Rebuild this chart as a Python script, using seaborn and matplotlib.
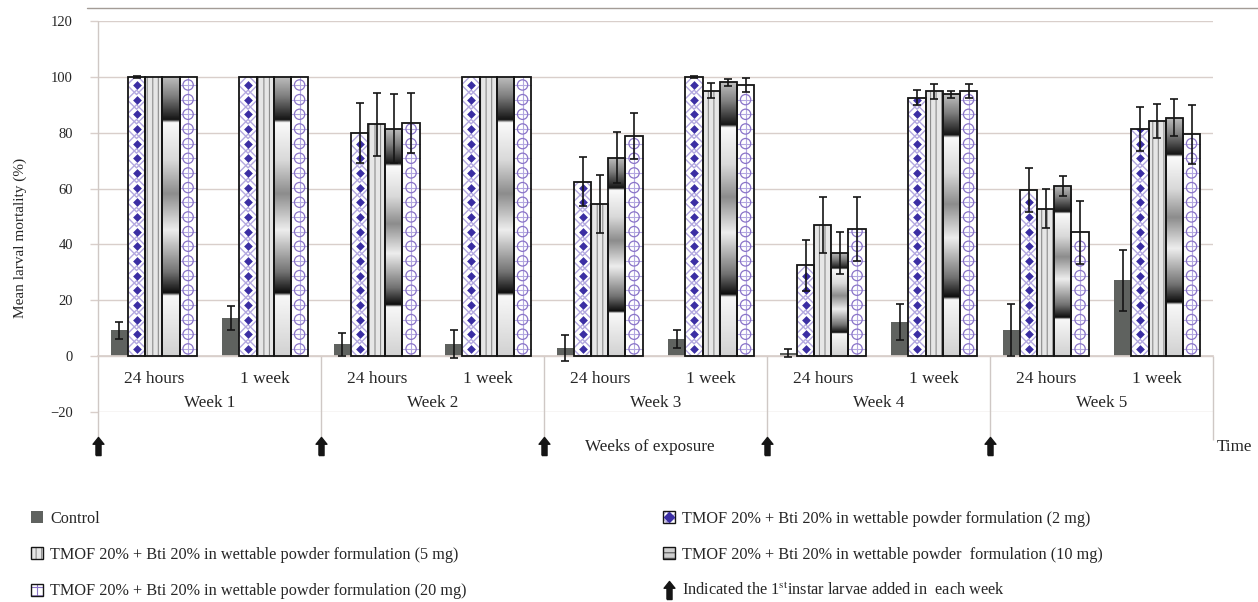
import matplotlib.pyplot as plt
import numpy as np
import pandas as pd
import seaborn as sns
from matplotlib.lines import Line2D
from matplotlib.patches import Patch, Rectangle
from matplotlib.path import Path
from matplotlib.transforms import blended_transform_factory

# Chart data
WEEKS = ['Week 1', 'Week 2', 'Week 3', 'Week 4', 'Week 5']
TIMES = ['24 hours', '1 week']
TREATMENTS = [
    'Control',
    'TMOF 20% + Bti 20% in wettable powder formulation (2 mg)',
    'TMOF 20% + Bti 20% in wettable powder formulation (5 mg)',
    'TMOF 20% + Bti 20% in wettable powder  formulation (10 mg)',
    'TMOF 20% + Bti 20% in wettable powder formulation (20 mg)',
]
INDICATOR_LABEL = 'Indicated the 1$^{\\rm st}$instar larvae added in  each week'

# mean mortality, order: W1 24h, W1 1wk, W2 24h, ... W5 1wk
CONTROL = [9.2, 13.6, 4.2, 4.2, 2.9, 6.1, 1.1, 12.2, 9.2, 27.1]
MG2 = [100, 100, 80.0, 100, 62.5, 100, 32.5, 92.5, 59.4, 81.4]
MG5 = [100, 100, 83.0, 100, 54.4, 95.0, 47.0, 94.9, 52.8, 84.2]
MG10 = [100, 100, 81.5, 100, 71.1, 98.1, 36.9, 93.8, 60.9, 85.4]
MG20 = [100, 100, 83.6, 100, 78.9, 97.0, 45.4, 94.9, 44.3, 79.4]
# error bar half-lengths
CONTROL_ERR = [3.2, 4.2, 4.1, 5.0, 4.5, 3.2, 1.3, 6.5, 9.3, 10.8]
MG2_ERR = [0.4, 0, 10.8, 0, 8.7, 0.3, 9.0, 2.7, 7.9, 7.9]
MG5_ERR = [0, 0, 11.2, 0, 10.3, 2.7, 10.0, 2.7, 7.0, 6.2]
MG10_ERR = [0, 0, 12.3, 0, 9.2, 1.3, 7.5, 1.2, 3.7, 6.6]
MG20_ERR = [0, 0, 10.8, 0, 8.3, 2.5, 11.5, 2.6, 11.2, 10.6]

# Style
GRID = '#d9cfcb'
SEPARATOR = '#cfc8c5'
INK = '#151515'
CONTROL_COLOR = '#5f625f'
BLUE = '#3b2ea3'
LAVENDER = '#b3a8e0'
PURPLE = '#8a74c8'
STRIPE_BG = '#e6e6e6'
STRIPE = '#8c8c8c'
PATTERN_STEP = 5.25  # data units between pattern motifs
# vertical shading profile of the 10 mg bars (0 = black, 1 = white)
_T = [0, 0.215, 0.225, 0.3, 0.45, 0.58, 0.7, 0.835, 0.845, 0.93, 1.0]
_G = [0.82, 0.97, 0.05, 0.45, 0.93, 0.55, 0.85, 0.98, 0.08, 0.5, 0.75]
GRADIENT = np.interp(np.linspace(0, 1, 400), _T, _G)
ARROW = Path([(-0.28, -1), (0.28, -1), (0.28, 0.25), (0.6, 0.25), (0, 1),
              (-0.6, 0.25), (-0.28, 0.25), (-0.28, -1)])


def main() -> None:
    sns.set_theme(style='white')
    plt.rcParams['font.family'] = ['Liberation Serif', 'DejaVu Serif']
    plt.rcParams['mathtext.fontset'] = 'stix'
    plt.rcParams['hatch.linewidth'] = 0.8

    categories = [f'{w}|{t}' for w in WEEKS for t in TIMES]
    values = [CONTROL, MG2, MG5, MG10, MG20]
    errors = [CONTROL_ERR, MG2_ERR, MG5_ERR, MG10_ERR, MG20_ERR]
    df = pd.DataFrame({
        'category': categories * len(TREATMENTS),
        'treatment': np.repeat(TREATMENTS, len(categories)),
        'mortality': np.concatenate(values),
    })

    fig = plt.figure(figsize=(12.58, 6.02), dpi=100)
    ax = fig.add_axes([0.0779, 0.3156, 0.8863, 0.6495])
    palette = [CONTROL_COLOR, 'white', STRIPE_BG, 'white', 'white']
    sns.barplot(data=df, x='category', y='mortality', hue='treatment', order=categories,
                hue_order=TREATMENTS, palette=palette, width=0.77, gap=0, errorbar=None,
                saturation=1, linewidth=0, legend=False, ax=ax, zorder=2)

    bars = sorted(ax.patches, key=lambda p: p.get_x())
    err_x, err_y, err_v = [], [], []
    for k, p in enumerate(bars):
        cat, hue = divmod(k, len(TREATMENTS))
        x0, w, h = p.get_x(), p.get_width(), p.get_height()
        xc = x0 + w / 2
        motifs = np.arange(2.6, h, PATTERN_STEP)
        centres = np.full(len(motifs), xc)
        if hue == 1:
            lattice = ax.scatter(centres, motifs, marker='D', s=95, facecolors='none',
                                 edgecolors=LAVENDER, linewidths=1.0, zorder=2.1)
            lattice.set_clip_path(p)
            sc = ax.scatter(centres, motifs, marker='D', s=20, color=BLUE, linewidths=0, zorder=2.3)
            sc.set_clip_path(p)
        elif hue == 2:
            ax.add_patch(Rectangle((x0, 0), w, h, fc='none', ec=STRIPE, hatch='|||', lw=0, zorder=2.1))
        elif hue == 3:
            im = ax.imshow(GRADIENT[:, None], cmap='gray', vmin=0, vmax=1, extent=(x0, x0 + w, 0, h),
                           origin='lower', aspect='auto', interpolation='bilinear', zorder=2.2)
            im.set_clip_path(p)
        elif hue == 4:
            cross = ax.scatter(centres, motifs, marker='+', s=190, color=LAVENDER,
                               linewidths=0.8, zorder=2.2)
            cross.set_clip_path(p)
            ring = ax.scatter(centres, motifs, marker='o', s=55, facecolors='none',
                              edgecolors=PURPLE, linewidths=0.9, zorder=2.3)
            ring.set_clip_path(p)
        if hue > 0:
            ax.add_patch(Rectangle((x0, 0), w, h, fill=False, ec=INK, lw=1.3, zorder=2.6))
        if errors[hue][cat] > 0:
            err_x.append(xc)
            err_y.append(h)
            err_v.append(errors[hue][cat])
    ax.errorbar(err_x, err_y, yerr=err_v, fmt='none', ecolor=INK, elinewidth=1.2,
                capsize=2.6, capthick=1.2, zorder=3)

    # axes
    ax.set_xlim(-0.5, len(categories) - 0.5)
    ax.set_ylim(-20, 120)
    ax.set_yticks(range(-20, 121, 20))
    ax.set_xticks(range(len(categories)))
    ax.set_xticklabels(TIMES * len(WEEKS))
    ax.grid(axis='y', color=GRID, lw=1)
    ax.grid(axis='x', visible=False)
    ax.set_axisbelow(True)
    for side in ['left', 'right', 'top']:
        ax.spines[side].set_visible(False)
    ax.spines['bottom'].set_position(('data', 0))
    ax.spines['bottom'].set_color(GRID)
    ax.tick_params(axis='y', left=True, length=6, width=1, color=GRID, pad=12, labelsize=10.5)
    ax.tick_params(axis='x', bottom=False, length=0, pad=11, labelsize=12.5)
    ax.set_xlabel('')
    ax.set_ylabel('Mean larval mortality (%)', fontsize=11)
    ax.yaxis.set_label_coords(-0.064, 0.445)

    # week separators, week labels and "larvae added" arrows
    bounds = [2 * i - 0.5 for i in range(len(WEEKS) + 1)]
    ax.vlines(bounds[0], -30, 120, color=SEPARATOR, lw=1, clip_on=False, zorder=1)
    ax.vlines(bounds[1:], -30, 0, color=SEPARATOR, lw=1, clip_on=False, zorder=1)
    for i, week in enumerate(WEEKS):
        ax.text(2 * i + 0.5, -16.6, week, ha='center', va='center', fontsize=12.3)
    ax.scatter(bounds[:-1], [-32.0] * (len(bounds) - 1), marker=ARROW, s=170, color=INK,
               clip_on=False, zorder=5)
    trans = blended_transform_factory(ax.transAxes, ax.transData)
    ax.text(0.495, -32.6, 'Weeks of exposure', transform=trans, ha='center', va='center', fontsize=12.3)
    ax.text(1.0355, -32.6, 'Time', transform=trans, ha='right', va='center', fontsize=12.3)

    # thin frame line on top
    fig.add_artist(Line2D([87 / 1258, 1.0], [1 - 8 / 602] * 2, color='#a39c96', lw=1))

    # legend
    outline = dict(fill=False, ec=INK, lw=1)
    h_control = Patch(fc=CONTROL_COLOR, ec='none')
    h_2 = (Patch(fc='white', ec=LAVENDER, hatch='xxx', lw=0), Patch(**outline),
           Line2D([], [], ls='', marker='D', ms=5, color=BLUE))
    h_5 = (Patch(fc=STRIPE_BG, ec=STRIPE, hatch='|||', lw=0), Patch(**outline))
    h_10 = (Patch(fc='#cfcfcf', ec='#555555', hatch='---', lw=0), Patch(**outline))
    h_20 = (Patch(fc='white', ec=PURPLE, hatch='++', lw=0), Patch(**outline))
    h_arrow = Line2D([], [], ls='', marker=ARROW, ms=13, color=INK)
    common = dict(loc='center left', frameon=False, fontsize=11.7, handlelength=0.75,
                  handleheight=0.75, handletextpad=0.45, labelspacing=1.25, borderpad=0,
                  borderaxespad=0)
    fig.legend([h_control, h_5, h_20], [TREATMENTS[0], TREATMENTS[2], TREATMENTS[4]],
               bbox_to_anchor=(31 / 1258, 1 - 555 / 602), **common)
    fig.legend([h_2, h_10, h_arrow], [TREATMENTS[1], TREATMENTS[3], INDICATOR_LABEL],
               bbox_to_anchor=(663 / 1258, 1 - 555 / 602), **common)

    fig.savefig('out.png', dpi=100)


if __name__ == '__main__':
    main()
